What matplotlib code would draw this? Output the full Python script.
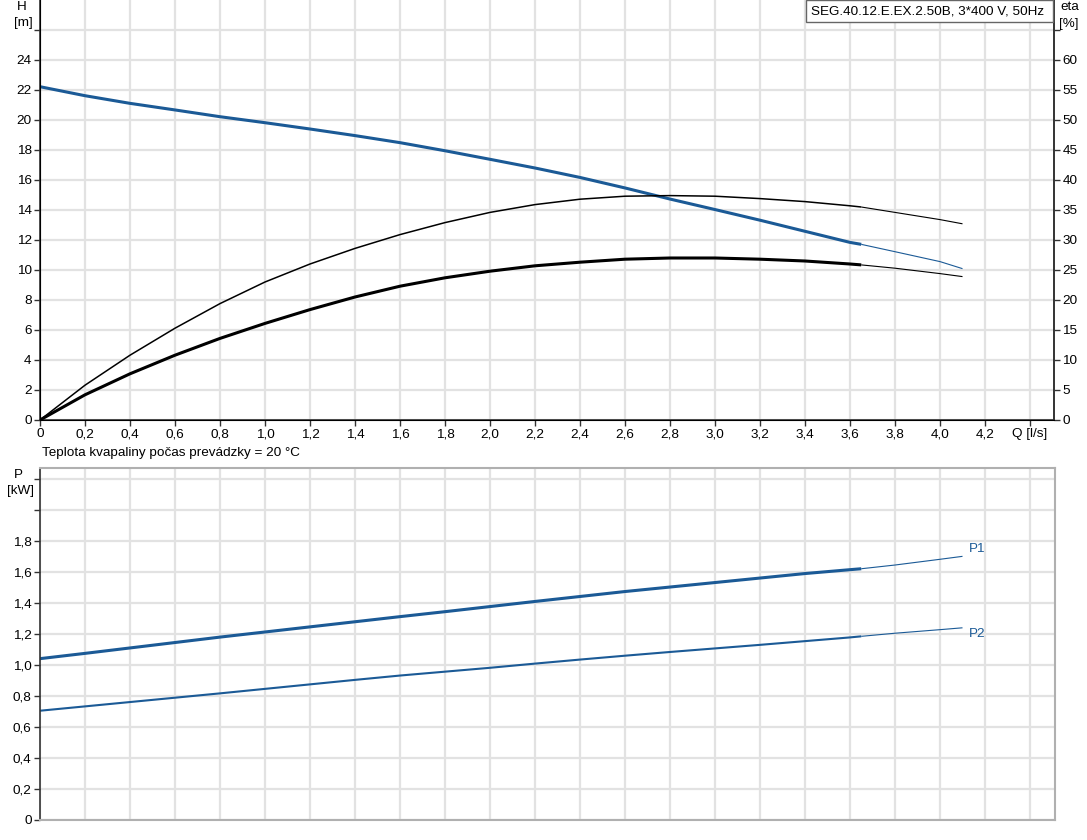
import matplotlib
matplotlib.use('Agg')
import matplotlib.pyplot as plt
from matplotlib.patches import Rectangle

plt.rcParams['font.family'] = ['Liberation Sans', 'DejaVu Sans']
plt.rcParams['font.size'] = 9.7
plt.rcParams['lines.solid_joinstyle'] = 'round'

# flow [l/s] at which the values were read; the operating range ends at Q_END
q = [0, 0.2, 0.4, 0.6, 0.8, 1.0, 1.2, 1.4, 1.6, 1.8, 2.0, 2.2, 2.4, 2.6,
     2.8, 3.0, 3.2, 3.4, 3.6, 3.65, 3.8, 4.0, 4.1]
Q_END = 3.65

head = [22.22, 21.62, 21.11, 20.67, 20.22, 19.82, 19.40, 18.96, 18.49, 17.95,
        17.38, 16.80, 16.17, 15.47, 14.73, 14.03, 13.32, 12.58, 11.84, 11.71,
        11.22, 10.56, 10.09]
eta_pump = [0, 5.8, 10.8, 15.3, 19.4, 23.0, 26.0, 28.6, 30.9, 32.9, 34.6, 35.9,
            36.8, 37.3, 37.4, 37.3, 36.9, 36.4, 35.7, 35.5, 34.6, 33.4, 32.7]
eta_total = [0, 4.2, 7.7, 10.8, 13.6, 16.1, 18.4, 20.5, 22.3, 23.7, 24.8, 25.7,
             26.3, 26.8, 27.0, 27.0, 26.8, 26.5, 26.0, 25.85, 25.3, 24.4, 23.9]
p1 = [1.041, 1.075, 1.110, 1.145, 1.180, 1.213, 1.246, 1.279, 1.312, 1.344,
      1.377, 1.410, 1.442, 1.474, 1.503, 1.532, 1.561, 1.590, 1.615, 1.621,
      1.645, 1.682, 1.701]
p2 = [0.705, 0.733, 0.761, 0.789, 0.817, 0.846, 0.875, 0.904, 0.932, 0.957,
      0.982, 1.009, 1.035, 1.060, 1.084, 1.107, 1.130, 1.154, 1.178, 1.185,
      1.205, 1.228, 1.240]

q_ticks = [i * 0.2 for i in range(23)]
q_labels = ['0' if i == 0 else '{:.1f}'.format(i * 0.2).replace('.', ',') for i in range(22)] + ['Q [l/s]']
h_ticks = list(range(0, 28, 2))
h_labels = [str(v) for v in range(0, 26, 2)] + ['']
eta_ticks = list(range(0, 70, 5))
eta_labels = [str(v) for v in range(0, 65, 5)] + ['']
p_ticks = [i * 0.2 for i in range(12)]
p_labels = ['0' if i == 0 else '{:.1f}'.format(i * 0.2).replace('.', ',') for i in range(10)] + ['', '']

BLUE = '#1b5a96'
GRID = '#e2e2e2'
W, H = 1087, 840
k = q.index(Q_END)


def split_plot(ax, y, color, lw_main, lw_ext=0.8):
    ax.plot(q[:k + 1], y[:k + 1], color=color, lw=lw_main, solid_capstyle='butt')
    ax.plot(q[k:], y[k:], color=color, lw=lw_ext, solid_capstyle='butt')


fig = plt.figure(figsize=(W / 100, H / 100), dpi=100)

# ---- head / efficiency panel
ax = fig.add_axes([40 / W, 0.5, 1014 / W, 0.5])
ax.set_xlim(0, 1014 / 225)
ax.set_ylim(0, 28)
ax.set_xticks(q_ticks)
ax.set_xticklabels(q_labels)
ax.set_yticks(h_ticks)
ax.set_yticklabels(h_labels)
ax.grid(True, color=GRID, lw=1.6)
ax.set_axisbelow(True)
ax.spines['top'].set_visible(False)
for s in ('left', 'bottom', 'right'):
    ax.spines[s].set_color('#333333')
    ax.spines[s].set_linewidth(1.2)
ax.tick_params(length=4, width=1, color='#333333', labelcolor='black', pad=2)

ax2 = ax.twinx()
ax2.set_ylim(0, 70)
ax2.set_yticks(eta_ticks)
ax2.set_yticklabels(eta_labels)
ax2.spines['top'].set_visible(False)
ax2.spines['right'].set_color('#333333')
ax2.spines['right'].set_linewidth(1.2)
ax2.tick_params(length=4, width=1, color='#333333', labelcolor='black', pad=2)

split_plot(ax2, eta_pump, 'black', 1.1)
split_plot(ax2, eta_total, 'black', 2.2)
split_plot(ax, head, BLUE, 2.2)

fig.text(22 / W, 1 - 7 / H, 'H', ha='center', va='center')
fig.text(23 / W, 1 - 23 / H, '[m]', ha='center', va='center')
fig.text(1070 / W, 1 - 7 / H, 'eta', ha='center', va='center')
fig.text(1069 / W, 1 - 24 / H, '[%]', ha='center', va='center')

fig.patches.append(Rectangle((806 / W, 1 - 22 / H), 247 / W, 22 / H,
                             transform=fig.transFigure, facecolor='white',
                             edgecolor='#666666', lw=1, zorder=5))
fig.text(811 / W, 1 - 11 / H, 'SEG.40.12.E.EX.2.50B, 3*400 V, 50Hz',
         ha='left', va='center', zorder=6)

fig.text(42 / W, 1 - 453 / H, 'Teplota kvapaliny počas prevádzky = 20 °C',
         ha='left', va='center')

# ---- power panel
axp = fig.add_axes([40 / W, 20 / H, 1015 / W, 352 / H])
axp.set_xlim(0, 1015 / 225)
axp.set_ylim(0, 352 / 155)
axp.set_xticks(q_ticks)
axp.set_xticklabels([])
axp.tick_params(axis='x', length=0)
axp.set_yticks(p_ticks)
axp.set_yticklabels(p_labels)
axp.tick_params(axis='y', length=4, width=1, color='#333333', labelcolor='black', pad=2)
axp.grid(True, color=GRID, lw=1.6)
axp.set_axisbelow(True)
for s in ('top', 'right', 'bottom'):
    axp.spines[s].set_color('#b0b0b0')
    axp.spines[s].set_linewidth(1.5)
axp.spines['left'].set_color('#333333')
axp.spines['left'].set_linewidth(1.2)

split_plot(axp, p1, BLUE, 2.2)
split_plot(axp, p2, BLUE, 1.5)
axp.text(4.13, p1[-1] + 0.01, 'P1', color=BLUE, ha='left', va='bottom')
axp.text(4.13, p2[-1], 'P2', color=BLUE, ha='left', va='top')

fig.text(18 / W, 1 - 475 / H, 'P', ha='center', va='center')
fig.text(21 / W, 1 - 491 / H, '[kW]', ha='center', va='center')

fig.savefig('out.png', dpi=100)
